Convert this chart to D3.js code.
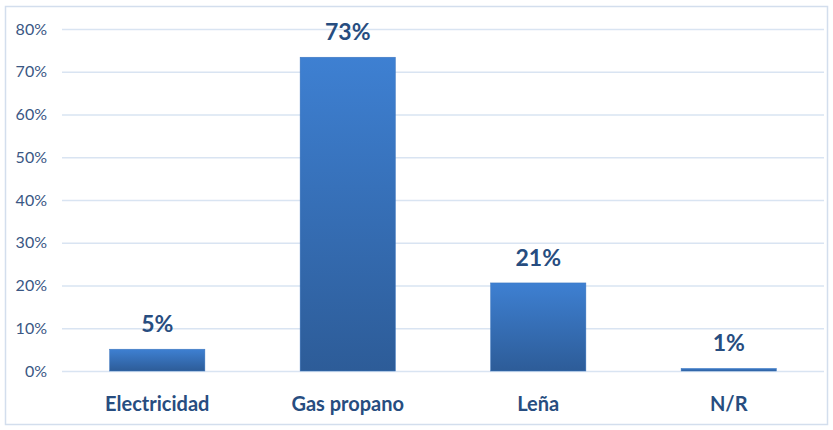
<!DOCTYPE html>
<html><head><meta charset="utf-8">
<script src="https://cdn.jsdelivr.net/npm/d3@7"></script>
<style>body{margin:0;background:#fff}svg{display:block}</style>
</head><body>
<script>
const categories = ["Electricidad", "Gas propano", "Leña", "N/R"];
const values = [5.1, 73.4, 20.6, 0.6];
const valueLabels = ["5%", "73%", "21%", "1%"];
const yTicks = [0, 10, 20, 30, 40, 50, 60, 70, 80];

const W = 833, H = 430;
const m = {left: 62, right: 9, top: 29, bottom: 59};
const svg = d3.select("body").append("svg").attr("width", W).attr("height", H);

const defs = svg.append("defs");
const g = defs.append("linearGradient").attr("id", "bg").attr("x1", 0).attr("x2", 0).attr("y1", 0).attr("y2", 1);
g.append("stop").attr("offset", "0%").attr("stop-color", "#3e80d2");
g.append("stop").attr("offset", "100%").attr("stop-color", "#2d5c98");

svg.append("rect").attr("x", 5.5).attr("y", 6.5).attr("width", W - 11).attr("height", H - 12)
  .attr("fill", "#fff").attr("stroke", "#d3deed").attr("stroke-width", 1.5);

const x = d3.scaleBand().domain(categories).range([m.left, W - m.right]).paddingInner(0.5).paddingOuter(0.25);
const y = d3.scaleLinear().domain([0, 80]).range([H - m.bottom, m.top]);

const yAxis = svg.append("g").attr("transform", `translate(${m.left},0)`)
  .call(d3.axisLeft(y).tickValues(yTicks).tickFormat(d => d + "%").tickSize(-(W - m.left - m.right)).tickPadding(15));
yAxis.select(".domain").remove();
yAxis.selectAll(".tick line").attr("stroke", "#d9e4f2").attr("stroke-width", 1.5);
yAxis.selectAll(".tick text").attr("fill", "#3a5784").attr("font-family", "Lato, 'Open Sans', sans-serif").attr("font-size", 16);

svg.append("g").selectAll("rect").data(values).join("rect")
  .attr("x", (d, i) => x(categories[i]))
  .attr("width", x.bandwidth())
  .attr("y", d => y(d))
  .attr("height", d => y(0) - y(d))
  .attr("fill", "url(#bg)")
  .attr("stroke", "#3a74bd").attr("stroke-width", 0.5);

svg.append("g").selectAll("text").data(values).join("text")
  .attr("x", (d, i) => x(categories[i]) + x.bandwidth() / 2)
  .attr("y", d => y(d) - 17)
  .attr("text-anchor", "middle")
  .attr("fill", "#274d80").attr("font-weight", "bold")
  .attr("font-family", "Lato, 'Open Sans', sans-serif").attr("font-size", 23)
  .text((d, i) => valueLabels[i]);

svg.append("g").selectAll("text").data(categories).join("text")
  .attr("x", d => x(d) + x.bandwidth() / 2)
  .attr("y", 411)
  .attr("text-anchor", "middle")
  .attr("fill", "#274d80").attr("font-weight", "bold")
  .attr("font-family", "Lato, 'Open Sans', sans-serif").attr("font-size", 20)
  .text(d => d);
</script>
</body></html>
